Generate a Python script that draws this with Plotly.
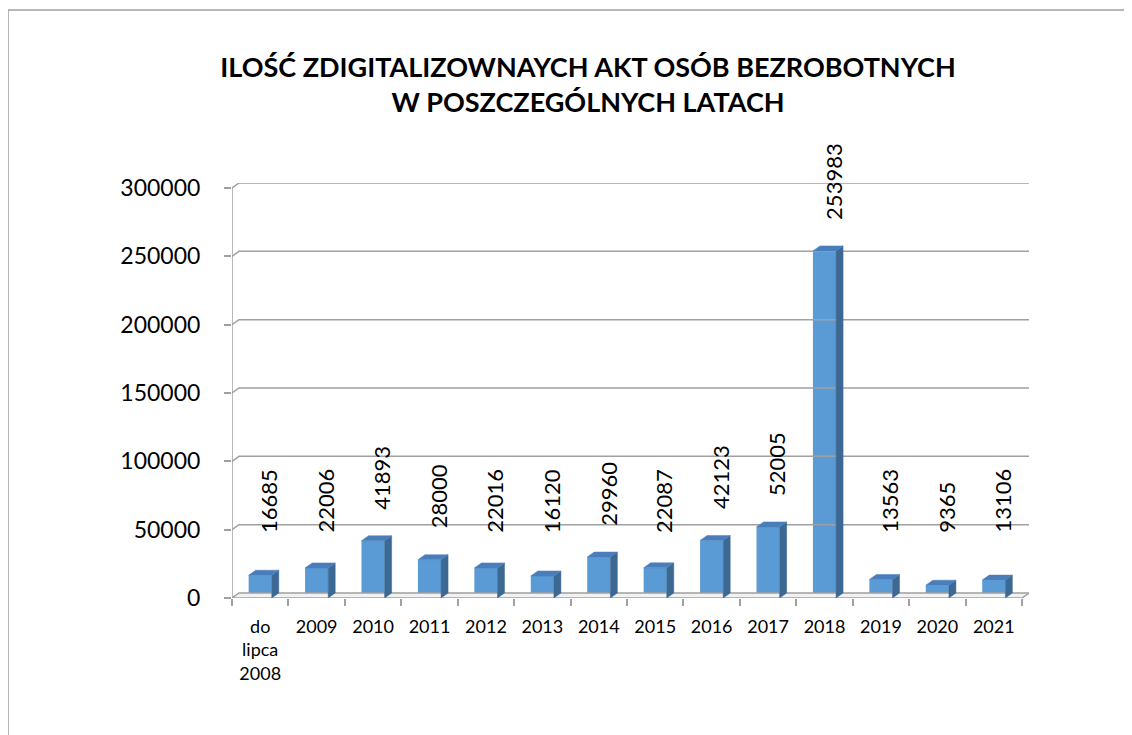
import plotly.graph_objects as go

categories = ["do<br>lipca<br>2008", "2009", "2010", "2011", "2012", "2013", "2014",
              "2015", "2016", "2017", "2018", "2019", "2020", "2021"]
values = [16685, 22006, 41893, 28000, 22016, 16120, 29960, 22087, 42123, 52005,
          253983, 13563, 9365, 13106]
y_ticks = [0, 50000, 100000, 150000, 200000, 250000, 300000]
title_lines = ["ILOŚĆ ZDIGITALIZOWNAYCH AKT OSÓB BEZROBOTNYCH", "W POSZCZEGÓLNYCH LATACH"]

FONT = "Lato"
# page body has an 8px margin; figure is sized and offset accordingly
W, H = 1124, 727
L, R, T, B = 224, 103, 175, 137
n = len(categories)
ymax = y_ticks[-1]
plot_w = W - L - R
plot_h = H - T - B
px_per_x = plot_w / (n + 7 / 56.43)
DX = 7 / px_per_x                 # depth offset in x units
front_h = plot_h - 5
DY = 5 / front_h * ymax           # depth offset in y units
xr = [-0.5, n - 0.5 + DX]
yr = [0, ymax + DY]
bw = 0.41

FRONT = "#5B9BD5"
TOP = "#4A7EBB"
SIDE = "#3C6894"
GRID = "#A0A0A0"

fig = go.Figure()

# back wall gridlines
for v in y_ticks[1:]:
    fig.add_trace(go.Scatter(x=[-0.5, -0.5 + DX, n - 0.5 + DX], y=[v, v + DY, v + DY],
                             mode="lines", line=dict(color=GRID, width=1.5),
                             hoverinfo="skip", showlegend=False))
# floor
fig.add_trace(go.Scatter(x=[-0.5, -0.5 + DX, n - 0.5 + DX, n - 0.5, -0.5],
                         y=[0, DY, DY, 0, 0], mode="lines", fill="toself",
                         fillcolor="#F2F2F2", line=dict(color=GRID, width=1.5),
                         hoverinfo="skip", showlegend=False))
# y axis line
fig.add_trace(go.Scatter(x=[-0.5, -0.5], y=[0, ymax], mode="lines",
                         line=dict(color=GRID, width=1.5), hoverinfo="skip", showlegend=False))

# front faces
fig.add_trace(go.Bar(x=list(range(n)), y=values, width=bw, marker=dict(color=FRONT, line=dict(width=0)),
                     showlegend=False))

# top and side faces
for i, v in enumerate(values):
    x0, x1 = i - bw / 2, i + bw / 2
    fig.add_trace(go.Scatter(x=[x1, x1 + DX, x1 + DX, x1, x1], y=[0, DY, v + DY, v, 0],
                             mode="lines", fill="toself", fillcolor=SIDE,
                             line=dict(color=SIDE, width=0.5), hoverinfo="skip", showlegend=False))
    fig.add_trace(go.Scatter(x=[x0, x0 + DX, x1 + DX, x1, x0], y=[v, v + DY, v + DY, v, v],
                             mode="lines", fill="toself", fillcolor=TOP,
                             line=dict(color=TOP, width=0.5), hoverinfo="skip", showlegend=False))

# data labels
for i, v in enumerate(values):
    fig.add_annotation(x=i, y=max(v, 25000), text=str(v), textangle=-90, showarrow=False,
                       xanchor="center", yanchor="bottom", yshift=29, xshift=9,
                       font=dict(family=FONT, size=22, color="black"))

# x axis labels overlay
fig.add_trace(go.Scatter(x=[0], y=[0], xaxis="x2", mode="markers", marker=dict(opacity=0),
                         hoverinfo="skip", showlegend=False))

fig.update_layout(
    width=W, height=H,
    margin=dict(l=L, r=R, t=T, b=B, autoexpand=False),
    paper_bgcolor="white", plot_bgcolor="rgba(0,0,0,0)",
    title=dict(text="<b>" + "<br>".join(title_lines) + "</b>", x=580 / W, xref="container",
               xanchor="center", y=1 - 69 / H, yref="container", yanchor="middle",
               font=dict(family=FONT, size=27, color="black")),
    xaxis=dict(range=xr, showgrid=False, zeroline=False, showline=False,
               tickmode="array", tickvals=[k - 0.5 for k in range(n + 1)],
               ticks="outside", ticklen=7, tickcolor=GRID, tickwidth=1.5,
               showticklabels=False, fixedrange=True),
    xaxis2=dict(range=xr, overlaying="x", side="bottom", showgrid=False, zeroline=False,
                showline=False, tickmode="array", tickvals=list(range(n)), ticktext=categories,
                ticks="", ticklabelstandoff=16,
                tickfont=dict(family=FONT, size=18, color="black")),
    yaxis=dict(range=yr, showgrid=False, zeroline=False, showline=False,
               tickmode="array", tickvals=y_ticks, ticktext=[str(t) for t in y_ticks],
               ticks="outside", ticklen=7, tickcolor=GRID, tickwidth=1.5,
               ticklabelstandoff=19,
               tickfont=dict(family=FONT, size=23, color="black")),
    shapes=[dict(type="rect", xref="paper", yref="paper",
                 x0=(0 - L) / plot_w, x1=(W + 10 - L) / plot_w,
                 y0=-(B + 10) / plot_h, y1=(plot_h + T - 2) / plot_h,
                 line=dict(color="#A0A0A0", width=1.5), fillcolor="rgba(0,0,0,0)", layer="below")],
)

fig.write_html("out.html")
